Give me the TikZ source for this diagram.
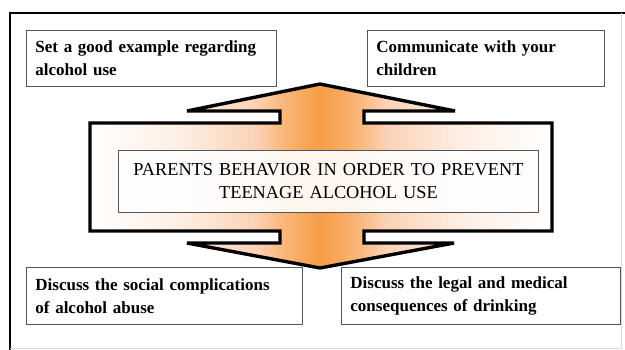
\documentclass[tikz,border=0pt]{standalone}
\usepackage{fontspec}
\setmainfont{Liberation Serif}
\definecolor{pkA}{HTML}{FDEEE3}
\definecolor{pkB}{HTML}{FBD2B6}
\definecolor{orA}{HTML}{F9B678}
\definecolor{orB}{HTML}{F79C46}
\definecolor{boxline}{HTML}{555555}
\pgfdeclarehorizontalshading{arrowshade}{100bp}{color(0bp)=(white); color(25bp)=(white); color(35bp)=(pkA); color(43bp)=(pkB); color(46bp)=(orA); color(50bp)=(orB); color(54bp)=(orA); color(57bp)=(pkB); color(65bp)=(pkA); color(75bp)=(white); color(100bp)=(white)}
\tikzset{
  sidebox/.style={draw=boxline, line width=0.9pt, fill=white, anchor=north west,
    align=left, inner xsep=9pt, inner ysep=0pt, font=\fontsize{17}{23}\selectfont\bfseries},
  centerbox/.style={draw=boxline, line width=0.9pt, fill=white, fill opacity=0.9, text opacity=1,
    anchor=north west, align=center, inner sep=0pt, minimum width=420pt, minimum height=62pt,
    text width=410pt, font=\fontsize{18.3}{23}\selectfont},
  bigarrow/.style={draw=black, line width=3.4pt, line join=miter, shading=arrowshade}
}
\begin{document}
\begin{tikzpicture}[x=1pt,y=-1pt]
\useasboundingbox (0,0) rectangle (625,350);
\fill[white] (0,0) rectangle (625,350);
% frame
\draw[line width=2pt, black] (10,350) -- (10,13) -- (625,13);
\draw[line width=0.8pt, black!15] (10,348) -- (621,348) -- (621,13);
% big double arrow
\path[bigarrow] (90,123) -- (280,123) -- (280,111) -- (187,111) -- (320,84) -- (455,111)
  -- (364,111) -- (364,123) -- (552,123) -- (552,231) -- (364,231) -- (364,243)
  -- (454,243) -- (320,268) -- (187,243) -- (280,243) -- (280,231) -- (90,231) -- cycle;
% boxes
\node[sidebox, minimum width=250pt, minimum height=56pt, text width=232pt] (tl) at (26,30)
  {Set a good example regarding\\alcohol use};
\node[sidebox, minimum width=237pt, minimum height=56pt, text width=219pt] (tr) at (367,30)
  {Communicate with your\\children};
\node[sidebox, minimum width=276pt, minimum height=57pt, text width=258pt] (bl) at (26,267)
  {Discuss the social complications\\of alcohol abuse};
\node[sidebox, minimum width=279pt, minimum height=57pt, text width=261pt] (br) at (341,267)
  {Discuss the legal and medical\\consequences of drinking};
\node[centerbox] (c) at (118,150)
  {PARENTS BEHAVIOR IN ORDER TO PREVENT\\TEENAGE ALCOHOL USE};
\end{tikzpicture}
\end{document}
